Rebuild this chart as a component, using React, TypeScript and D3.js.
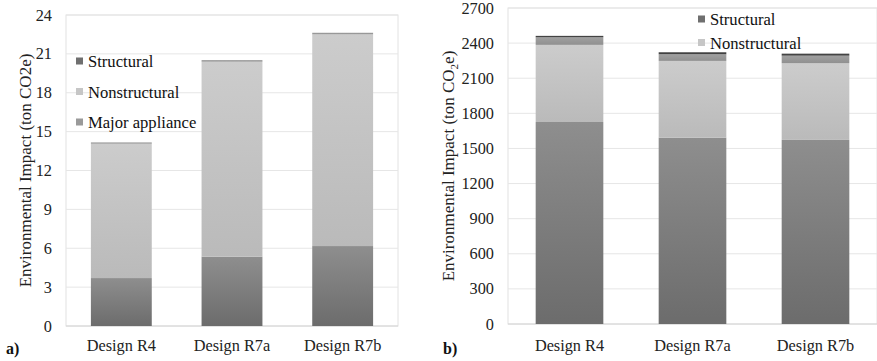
import React from 'react'
import * as d3 from 'd3'

// Categories shared by both panels
const designs = ['Design R4', 'Design R7a', 'Design R7b']

// Panel a) values (ton CO2e)
const aStructural = [3.7, 5.35, 6.17]
const aNonstructural = [10.37, 15.05, 16.34]
const aMajorAppliance = [0.1, 0.12, 0.12]
const aTicks = [0, 3, 6, 9, 12, 15, 18, 21, 24]

// Panel b) values (ton CO2e)
const bStructural = [1726, 1592, 1573]
const bNonstructural = [659, 656, 655]
const bMajorAppliance = [65, 57, 65]
const bOther = [12, 17, 17]
const bTicks = [0, 300, 600, 900, 1200, 1500, 1800, 2100, 2400, 2700]

const FONT = 'Liberation Serif'

type Series = { name: string; values: number[]; grad: string; swatch: string; legend: boolean }

const gradients = [
  { id: 'g-struct', top: '#8e8e8e', bottom: '#6c6c6c' },
  { id: 'g-nonstruct', top: '#cccccc', bottom: '#bababa' },
  { id: 'g-major', top: '#a0a0a0', bottom: '#909090' },
  { id: 'g-other', top: '#4a4a4a', bottom: '#3c3c3c' },
]

const Panel = ({
  series, ticks, max, left, right, top, bottom, label, labelX, titleX, tickX, legendX, legendY, legendGap, title,
}: any) => {
  const x = d3.scaleBand().domain(designs).range([left, right]).paddingInner(0.45).paddingOuter(0.225)
  const y = d3.scaleLinear().domain([0, max]).range([bottom, top])

  const stacked = d3.stack<any>()
    .keys(series.map((s: Series) => s.name))(designs.map((d, i) => {
      const row: any = { design: d }
      series.forEach((s: Series) => { row[s.name] = s.values[i] })
      return row
    }))

  const legendItems = series.filter((s: Series) => s.legend)

  return (
    <g>
      {/* plot area */}
      <rect x={left} y={top} width={right - left} height={bottom - top} fill="#fff" stroke="#e2e2e2" strokeWidth={1} />
      {ticks.map((t: number) => (
        <g key={t}>
          <line x1={left} x2={right} y1={y(t)} y2={y(t)} stroke={t === 0 ? '#d4d4d4' : '#e6e6e6'} strokeWidth={1} />
          <text x={tickX} y={y(t) + 5.5} textAnchor="end" fontFamily={FONT} fontSize={16.3} fill="#222">{t}</text>
        </g>
      ))}
      {stacked.map((layer, li) => (
        <g key={layer.key} fill={`url(#${series[li].grad})`}>
          {layer.map((seg, i) => (
            <rect key={i} x={x(designs[i])} width={x.bandwidth()} y={y(seg[1])} height={Math.max(0, y(seg[0]) - y(seg[1]))} />
          ))}
        </g>
      ))}
      {designs.map(d => (
        <text key={d} x={(x(d) as number) + x.bandwidth() / 2} y={351} textAnchor="middle" fontFamily={FONT} fontSize={16.3} fill="#222">{d}</text>
      ))}
      <text transform={`translate(${titleX + 5.5},${(top + bottom) / 2}) rotate(-90)`} textAnchor="middle" fontFamily={FONT} fontSize={17} fill="#222">{title}</text>
      <text x={labelX} y={354} fontFamily={FONT} fontSize={16} fontWeight="bold" fill="#111">{label}</text>
      {legendItems.map((s: Series, i: number) => (
        <g key={s.name} transform={`translate(${legendX},${legendY + i * legendGap})`}>
          <rect x={0} y={-9.5} width={7} height={7} fill={s.swatch} />
          <text x={12} y={0} fontFamily={FONT} fontSize={16.6} fill="#111">{s.name}</text>
        </g>
      ))}
    </g>
  )
}

export default function App() {
  const seriesA: Series[] = [
    { name: 'Structural', values: aStructural, grad: 'g-struct', swatch: '#6f6f6f', legend: true },
    { name: 'Nonstructural', values: aNonstructural, grad: 'g-nonstruct', swatch: '#c6c6c6', legend: true },
    { name: 'Major appliance', values: aMajorAppliance, grad: 'g-major', swatch: '#9a9a9a', legend: true },
  ]
  const seriesB: Series[] = [
    { name: 'Structural', values: bStructural, grad: 'g-struct', swatch: '#6f6f6f', legend: true },
    { name: 'Nonstructural', values: bNonstructural, grad: 'g-nonstruct', swatch: '#c6c6c6', legend: true },
    { name: 'Major appliance', values: bMajorAppliance, grad: 'g-major', swatch: '#9a9a9a', legend: false },
    { name: 'Other', values: bOther, grad: 'g-other', swatch: '#444', legend: false },
  ]

  return (
    <svg width={877} height={361} fontFamily={FONT} style={{ position: 'absolute', left: 0, top: 0, background: '#fff' }}>
      <defs>
        {gradients.map(g => (
          <linearGradient key={g.id} id={g.id} x1="0" x2="0" y1="0" y2="1">
            <stop offset="0%" stopColor={g.top} />
            <stop offset="100%" stopColor={g.bottom} />
          </linearGradient>
        ))}
      </defs>
      <Panel
        series={seriesA} ticks={aTicks} max={24}
        left={66} right={398} top={15} bottom={326}
        label="a)" labelX={6} titleX={25} tickX={52}
        legendX={76} legendY={67} legendGap={30.5}
        title="Environmental Impact (ton CO2e)"
      />
      <Panel
        series={seriesB} ticks={bTicks} max={2700}
        left={508} right={877} top={8} bottom={324}
        label="b)" labelX={443} titleX={448} tickX={494}
        legendX={698} legendY={25} legendGap={23.5}
        title={<>Environmental Impact (ton CO<tspan fontSize={11} dy="4">2</tspan><tspan dy="-4">e)</tspan></>}
      />
    </svg>
  )
}
